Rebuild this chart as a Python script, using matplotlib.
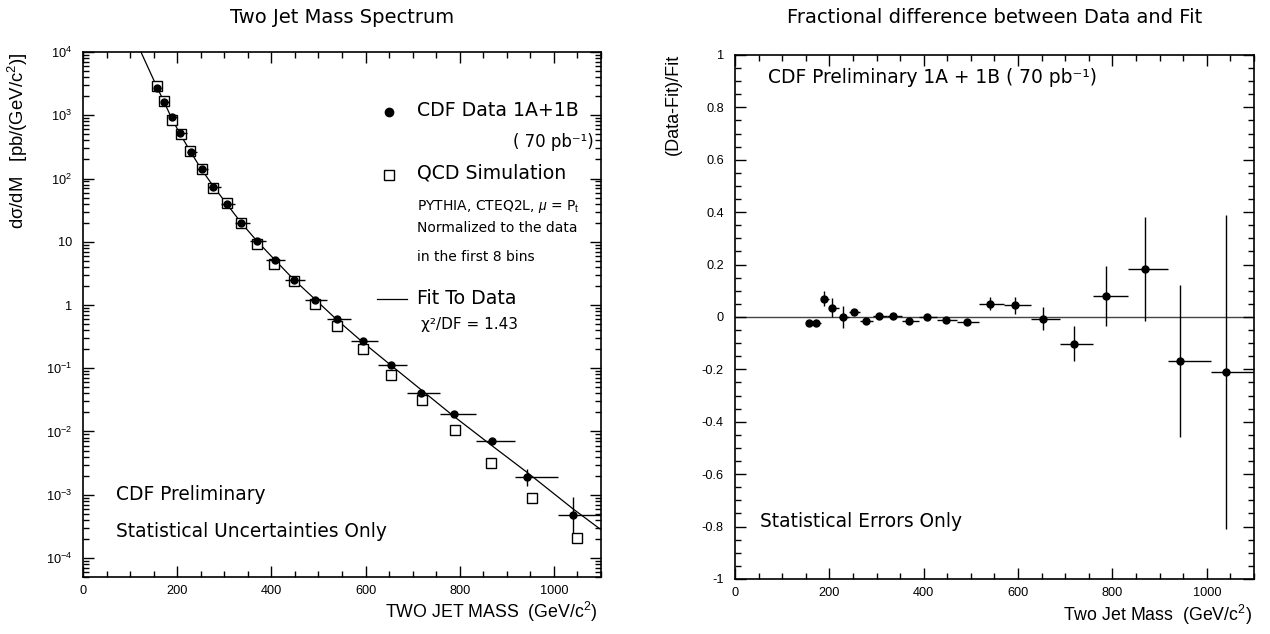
import numpy as np
import matplotlib
matplotlib.use('Agg')
import matplotlib.pyplot as plt
from matplotlib.ticker import MultipleLocator, LogLocator, NullFormatter, FixedLocator, FixedFormatter

plt.rcParams['font.family'] = ['Liberation Sans', 'DejaVu Sans']
plt.rcParams['mathtext.fontset'] = 'custom'
plt.rcParams['mathtext.rm'] = 'Liberation Sans'
plt.rcParams['mathtext.it'] = 'Liberation Sans:italic'
plt.rcParams['mathtext.bf'] = 'Liberation Sans:bold'

# dijet mass bins (GeV/c^2)
bin_lo = [150, 165, 182, 200, 220, 242, 266, 292, 322, 354, 389, 428, 471, 518, 570, 627, 689, 758, 834, 918, 1009]
bin_hi = [165, 182, 200, 220, 242, 266, 292, 322, 354, 389, 428, 471, 518, 570, 627, 689, 758, 834, 918, 1009, 1110]
mass = [157, 172, 189, 206, 229, 252, 277, 305, 336, 369, 407, 447, 492, 540, 594, 653, 718, 787, 868, 943, 1041]

# CDF data, dsigma/dM [pb/(GeV/c^2)]
data_y = [2730, 1600, 930, 525, 260, 140, 74, 40, 20, 10.2, 5.2, 2.53, 1.22, 0.605, 0.27, 0.112,
          0.041, 0.0189, 0.0071, 0.00188, 0.00047]
data_err_lo = [28, 16, 27, 19, 11, 1.4, 0.9, 0.3, 0.15, 0.1, 0.04, 0.025, 0.015, 0.015, 0.009, 0.005,
               0.003, 0.002, 0.0007, 0.00052, 0.00022]
data_err_hi = [28, 16, 27, 19, 11, 1.4, 0.9, 0.3, 0.15, 0.1, 0.04, 0.025, 0.015, 0.015, 0.009, 0.005,
               0.003, 0.002, 0.0007, 0.00068, 0.00044]

# QCD simulation (open squares)
sim_x = [156, 172, 188, 207, 228, 252, 277, 305, 335, 369, 405, 447, 493, 540, 594, 655, 720, 789, 866, 953, 1049]
sim_y = [2870, 1680, 843, 512, 270, 144, 72, 40.7, 19.7, 9.3, 4.5, 2.38, 1.03, 0.469, 0.201, 0.0789,
         0.0318, 0.0104, 0.00318, 0.000877, 0.000205]

# fit curve
fit_x = [123, 157, 172, 189, 206, 229, 252, 277, 305, 336, 369, 407, 447, 492, 540, 594, 653, 718,
         787, 868, 943, 1041, 1100]
fit_y = [10000, 2790, 1636, 869, 507, 260, 137.5, 75, 39.8, 19.9, 10.35, 5.2, 2.55, 1.245, 0.576,
         0.258, 0.113, 0.0457, 0.0175, 0.0060, 0.00226, 0.000595, 0.00028]

# fractional difference (Data-Fit)/Fit
frac = [-0.022, -0.022, 0.070, 0.036, 0.0, 0.018, -0.015, 0.004, 0.004, -0.015, 0.0, -0.01, -0.02,
        0.051, 0.045, -0.006, -0.102, 0.080, 0.183, -0.168, -0.21]
frac_err = [0.010, 0.010, 0.029, 0.036, 0.043, 0.010, 0.012, 0.008, 0.008, 0.010, 0.008, 0.010, 0.012,
            0.025, 0.033, 0.045, 0.067, 0.115, 0.200, 0.290, 0.600]

m = np.array(mass)
xerr = [m - np.array(bin_lo), np.array(bin_hi) - m]

ANN = ['DejaVu Sans']

fig = plt.figure(figsize=(12.7, 6.34), dpi=100)
ax1 = fig.add_axes([0.0654, 0.0899, 0.4078, 0.828])
ax2 = fig.add_axes([0.5787, 0.0868, 0.4087, 0.8265])

for ax in (ax1, ax2):
    for s in ax.spines.values():
        s.set_linewidth(1.2)
    ax.tick_params(which='both', direction='in', top=True, right=True, width=1.0, labelsize=9.2)
    ax.tick_params(which='major', length=8)
    ax.tick_params(which='minor', length=4)
    ax.set_xlim(0, 1100)
    ax.xaxis.set_major_locator(MultipleLocator(200))
    ax.xaxis.set_minor_locator(MultipleLocator(50))
    ax.tick_params(axis='x', pad=6)

# ---- left: spectrum ----
ax1.set_yscale('log')
ax1.set_ylim(5e-5, 1e4)
decades = [1e-4, 1e-3, 1e-2, 1e-1, 1, 10, 1e2, 1e3, 1e4]
dlabels = ['$10^{-4}$', '$10^{-3}$', '$10^{-2}$', '$10^{-1}$', '1', '10', '$10^{2}$', '$10^{3}$', '$10^{4}$']
ax1.yaxis.set_major_locator(FixedLocator(decades))
ax1.yaxis.set_major_formatter(FixedFormatter(dlabels))
ax1.yaxis.set_minor_locator(LogLocator(base=10, subs=np.arange(2, 10), numticks=20))
ax1.yaxis.set_minor_formatter(NullFormatter())
ax1.tick_params(axis='y', pad=8)

ax1.plot(fit_x, fit_y, color='black', lw=0.9, zorder=2)
ax1.plot(sim_x, sim_y, ls='none', marker='s', ms=7, mfc='white', mec='black', mew=1.0, zorder=3)
ax1.errorbar(mass, data_y, xerr=xerr, yerr=[data_err_lo, data_err_hi], fmt='o', color='black',
             ms=5, elinewidth=1.0, capsize=0, zorder=4)

# legend block drawn as text
ax1.plot([650], [1140], marker='o', ms=6, color='black')
ax1.text(710, 1210, 'CDF Data 1A+1B', fontsize=13.6, family=ANN, va='center')
ax1.text(1085, 378, '( 70 pb⁻¹)', fontsize=12, family=ANN, va='center', ha='right')
ax1.plot([650], [115], marker='s', ms=7, mfc='white', mec='black', mew=1.0)
ax1.text(710, 122, 'QCD Simulation', fontsize=13.6, family=ANN, va='center')
ax1.text(710, 35.6, 'PYTHIA, CTEQ2L, $\\mu$ = P$_{\\rm t}$', fontsize=10, family=ANN, va='center')
ax1.text(710, 16.6, 'Normalized to the data', fontsize=10, family=ANN, va='center')
ax1.text(710, 5.8, 'in the first 8 bins', fontsize=10, family=ANN, va='center')
ax1.plot([625, 688], [1.26, 1.26], color='black', lw=0.9)
ax1.text(710, 1.27, 'Fit To Data', fontsize=13.6, family=ANN, va='center')
ax1.text(718, 0.49, 'χ²/DF = 1.43', fontsize=11, family=ANN, va='center')

ax1.text(70, 1.0e-3, 'CDF Preliminary', fontsize=13.4, family=ANN, va='center')
ax1.text(70, 2.6e-4, 'Statistical Uncertainties Only', fontsize=13.4, family=ANN, va='center')

fig.text(0.269, 0.972, 'Two Jet Mass Spectrum', fontsize=14, family=ANN, ha='center', va='center')
fig.text(18 / 1270, 1 - 141 / 634, 'd\u03c3/dM   [pb/(GeV/c$^{2}$)]', fontsize=13.3,
         rotation=90, ha='center', va='center')
fig.text(598 / 1270, 1 - 612 / 634, 'TWO JET MASS  (GeV/c$^{2}$)', fontsize=12.8, ha='right', va='center')

# ---- right: fractional difference ----
ax2.set_ylim(-1, 1)
ax2.yaxis.set_major_locator(MultipleLocator(0.2))
ax2.yaxis.set_minor_locator(MultipleLocator(0.05))
ax2.yaxis.set_major_formatter(plt.FuncFormatter(lambda v, p: '0' if abs(v) < 1e-9 else ('%g' % v)))
ax2.tick_params(axis='y', pad=8)
ax2.axhline(0, color='#444444', lw=1.0, zorder=1)
ax2.errorbar(mass, frac, xerr=xerr, yerr=frac_err, fmt='o', color='black',
             ms=5, elinewidth=1.0, capsize=0, zorder=4)

ax2.text(70, 0.915, 'CDF Preliminary 1A + 1B ( 70 pb⁻¹)', fontsize=13.4, family=ANN, va='center')
ax2.text(53, -0.78, 'Statistical Errors Only', fontsize=13.4, family=ANN, va='center')

fig.text(0.783, 0.972, 'Fractional difference between Data and Fit', fontsize=14, family=ANN,
         ha='center', va='center')
fig.text(673 / 1270, 1 - 104 / 634, '(Data-Fit)/Fit', fontsize=13, rotation=90, ha='center', va='center')
fig.text(1252 / 1270, 1 - 615 / 634, 'Two Jet Mass  (GeV/c$^{2}$)', fontsize=12.8, ha='right', va='center')

fig.savefig('out.png', dpi=100)
